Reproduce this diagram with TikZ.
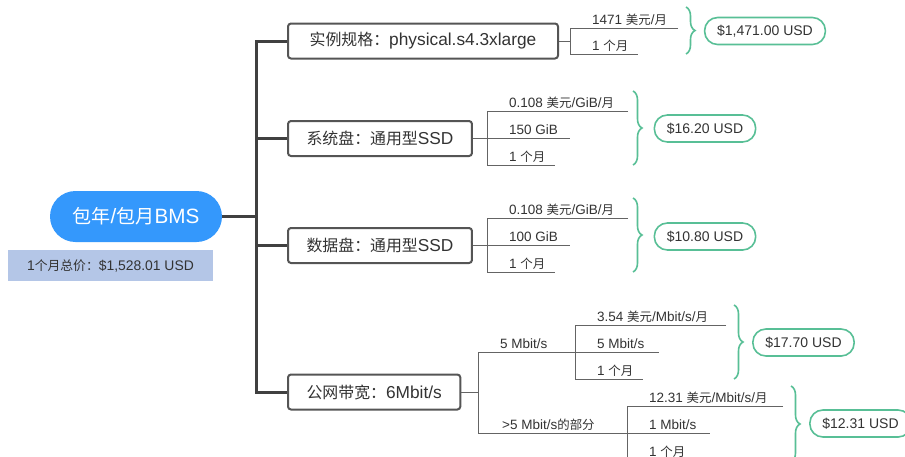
\documentclass[tikz,border=0pt]{standalone}
\usepackage{fontspec}
\setmainfont{Liberation Sans}
\newfontfamily\cjk[Scale=0.92]{Noto Sans CJK SC}
\usetikzlibrary{decorations.pathreplacing}
\definecolor{rootblue}{RGB}{52,152,252}
\definecolor{sumblue}{RGB}{180,198,231}
\definecolor{mgreen}{RGB}{88,191,150}
\definecolor{txt}{RGB}{51,51,51}
\definecolor{boxline}{RGB}{85,85,85}
\definecolor{trunkc}{RGB}{64,64,64}
\definecolor{leafc}{RGB}{100,100,100}
\newcommand{\zh}[1]{{\cjk #1}}
\begin{document}
\begin{tikzpicture}[x=1pt,y=-1pt,
  rootnode/.style={fill=rootblue,draw=none,text=white,rounded corners=25.5pt,minimum width=172pt,minimum height=51pt,font=\fontsize{20.7}{23}\selectfont},
  sumnode/.style={fill=sumblue,draw=none,text=txt,minimum width=205pt,minimum height=31pt,font=\fontsize{13.9}{16}\selectfont},
  boxnode/.style={draw=boxline,line width=2pt,rounded corners=3pt,text=txt,minimum height=35pt,inner xsep=18.5pt,anchor=west,font=\fontsize{17.3}{20}\selectfont},
  trunk/.style={draw=trunkc,line width=3pt},
  leaf/.style={draw=leafc,line width=1pt},
  lbl/.style={anchor=base west,inner sep=0pt,text=txt,font=\fontsize{13.5}{15}\selectfont},
  brc/.style={draw=mgreen,line width=1.6pt,decorate,decoration={brace,amplitude=9pt,aspect=0.5}},
  pill/.style={draw=mgreen,line width=1.6pt,fill=white,rounded corners=13pt,minimum height=27pt,inner xsep=12.5pt,text=txt,font=\fontsize{14}{16}\selectfont}
]
\useasboundingbox (0,0) rectangle (905,456);
\fill[white] (0,0) rectangle (905,456);
\clip (0,0) rectangle (905,456);

% root and summary
\node[rootnode] (root) at (136,216.5) {\zh{包年}/\zh{包月}BMS};
\node[sumnode] (sum) at (110.5,265.5) {1\zh{个月总价：}\$1,528.01 USD};

% main boxes
\node[boxnode,minimum width=270pt] (b1) at (287,41) {\zh{实例规格：}physical.s4.3xlarge};
\node[boxnode] (b2) at (287,138.5) {\zh{系统盘：通用型}SSD};
\node[boxnode] (b3) at (287,245.5) {\zh{数据盘：通用型}SSD};
\node[boxnode] (b4) at (287,392) {\zh{公网带宽：}6Mbit/s};

% trunk
\coordinate (tk) at (256,216.5);
\coordinate (tkt) at (256,41);
\coordinate (tkb) at (256,392);
\draw[trunk] (root.east) -- (tk);
\draw[trunk,line cap=rect] (tkt) -- (tkb);
\draw[trunk] (tkt) -- (b1.west);
\draw[trunk] (b2.west -| tk) -- (b2.west);
\draw[trunk] (b3.west -| tk) -- (b3.west);
\draw[trunk] (tkb) -- (b4.west);

% ---- box 1 children
\coordinate (v1t) at (570,28);
\coordinate (v1b) at (570,54);
\coordinate (u1a) at (678,28);
\coordinate (u1b) at (638,54);
\draw[leaf] (b1.east) -- (b1.east -| v1t);
\draw[leaf] (u1a) -- (v1t) -- (v1b) -- (u1b);
\node[lbl] (l1a) at (592,24.5) {1471 \zh{美元}/\zh{月}};
\node[lbl] (l1b) at (592,50.5) {1 \zh{个月}};
\draw[brc] (686,7) -- (686,54) coordinate[midway] (br1);
\node[pill] (p1) at (765,31) {\$1,471.00 USD};

% ---- box 2 children
\coordinate (v2t) at (487,111);
\coordinate (v2b) at (487,165);
\coordinate (u2a) at (628,111);
\coordinate (u2b) at (570,138.5);
\coordinate (u2c) at (555,165);
\draw[leaf] (b2.east) -- (u2b);
\draw[leaf] (u2a) -- (v2t) -- (v2b) -- (u2c);
\node[lbl] (l2a) at (509,107.5) {0.108 \zh{美元}/GiB/\zh{月}};
\node[lbl] (l2b) at (509,134.5) {150 GiB};
\node[lbl] (l2c) at (509,161.5) {1 \zh{个月}};
\draw[brc] (633,91) -- (633,165);
\node[pill] (p2) at (705,128.5) {\$16.20 USD};

% ---- box 3 children
\coordinate (v3t) at (487,218);
\coordinate (v3b) at (487,272);
\coordinate (u3a) at (628,218);
\coordinate (u3b) at (570,245.5);
\coordinate (u3c) at (555,272);
\draw[leaf] (b3.east) -- (u3b);
\draw[leaf] (u3a) -- (v3t) -- (v3b) -- (u3c);
\node[lbl] (l3a) at (509,214.5) {0.108 \zh{美元}/GiB/\zh{月}};
\node[lbl] (l3b) at (509,241.5) {100 GiB};
\node[lbl] (l3c) at (509,268.5) {1 \zh{个月}};
\draw[brc] (633,198) -- (633,272);
\node[pill] (p3) at (705,236.5) {\$10.80 USD};

% ---- box 4 children
\coordinate (v4j) at (478,392);
\coordinate (v4t) at (478,352);
\coordinate (v4b) at (478,433);
\draw[leaf] (b4.east) -- (v4j);
\draw[leaf] (v4t) -- (v4b);
\node[lbl] (l4a) at (500,348.5) {5 Mbit/s};
\node[lbl] (l4b) at (502,429.5) {>5 Mbit/s\zh{的部分}};

% sub 1
\coordinate (s1t) at (575,325);
\coordinate (s1b) at (575,379);
\coordinate (s1ua) at (726,325);
\coordinate (s1ub) at (659,352);
\coordinate (s1uc) at (643,379);
\draw[leaf] (v4t) -- (s1ub);
\draw[leaf] (s1ua) -- (s1t) -- (s1b) -- (s1uc);
\node[lbl] (m1a) at (597,321.5) {3.54 \zh{美元}/Mbit/s/\zh{月}};
\node[lbl] (m1b) at (597,348.5) {5 Mbit/s};
\node[lbl] (m1c) at (597,375.5) {1 \zh{个月}};
\draw[brc] (734,305) -- (734,379);
\node[pill] (p4) at (803.5,342.5) {\$17.70 USD};

% sub 2
\coordinate (s2t) at (627,406);
\coordinate (s2b) at (627,460);
\coordinate (s2ua) at (783,406);
\coordinate (s2ub) at (710,433);
\coordinate (s2uc) at (695,460);
\draw[leaf] (v4b) -- (s2ub);
\draw[leaf] (s2ua) -- (s2t) -- (s2b) -- (s2uc);
\node[lbl] (m2a) at (649,402.5) {12.31 \zh{美元}/Mbit/s/\zh{月}};
\node[lbl] (m2b) at (649,429.5) {1 Mbit/s};
\node[lbl] (m2c) at (649,456.5) {1 \zh{个月}};
\draw[brc] (791,386) -- (791,462);
\node[pill] (p5) at (860.5,423.5) {\$12.31 USD};
\end{tikzpicture}
\end{document}
